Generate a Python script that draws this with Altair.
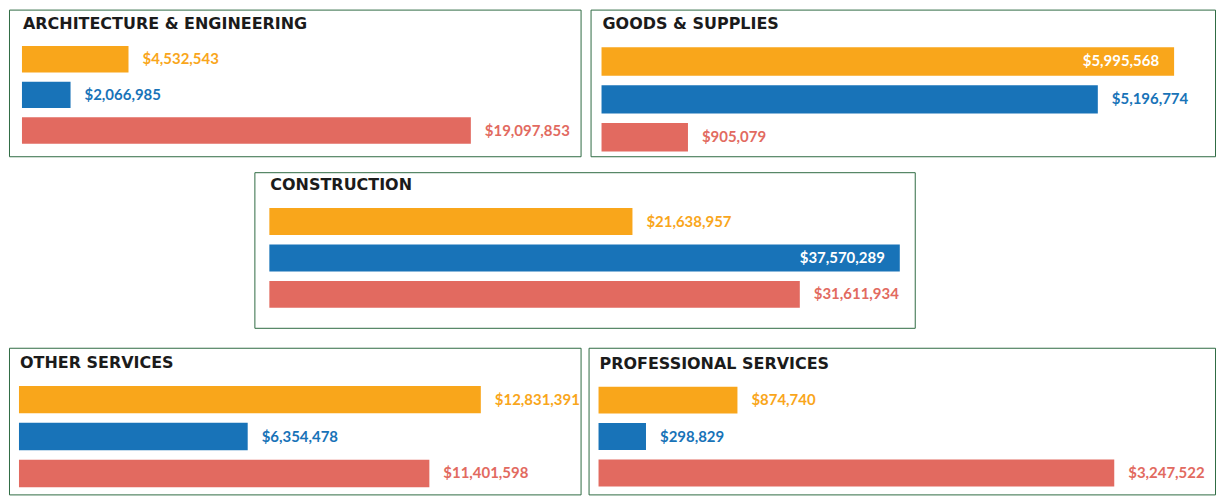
import altair as alt
import pandas as pd

# ---------------- data ----------------
categories = [
    "ARCHITECTURE & ENGINEERING",
    "GOODS & SUPPLIES",
    "CONSTRUCTION",
    "OTHER SERVICES",
    "PROFESSIONAL SERVICES",
]
series_names = ["Series 1", "Series 2", "Series 3"]
orange_values = [4532543, 5995568, 21638957, 12831391, 874740]
blue_values = [2066985, 5196774, 37570289, 6354478, 298829]
red_values = [19097853, 905079, 31611934, 11401598, 3247522]

# ---------------- style / layout ----------------
colors = ["#F9A61B", "#1873B8", "#E26A60"]
border = "#2f6b43"
label_font = "Lato"
label_size = 15
title_font = "DejaVu Sans"
title_size = 16

# per panel: width, height, bar start px, max-bar end px, title centre, step, bar height
layout = [
    dict(w=573, h=147, x0=13, x1=463, tc=14, step=35.75, bh=26.5),
    dict(w=626, h=147, x0=11, x1=585, tc=14, step=38.0, bh=28.5),
    dict(w=662, h=156, x0=15, x1=647, tc=13, step=36.5, bh=27.0),
    dict(w=573, h=147, x0=10, x1=473, tc=15, step=37.0, bh=27.5),
    dict(w=628, h=147, x0=10, x1=527, tc=16, step=36.5, bh=27.0),
]

y_domain = ["title"] + series_names


def est_width(v):
    s = "${:,}".format(v)
    w = 0.0
    for ch in s:
        if ch == ",":
            w += 0.26 * label_size
        else:
            w += 0.56 * label_size
    return w


def panel(i):
    L = layout[i]
    vals = [orange_values[i], blue_values[i], red_values[i]]
    vmax = max(vals)
    rows = []
    for s, v in zip(series_names, vals):
        end = L["x0"] + (L["x1"] - L["x0"]) * v / vmax
        inside = end + 14 + est_width(v) > L["w"]
        rows.append(dict(row=s, value=v, inside=bool(inside)))
    df = pd.DataFrame(rows)
    tdf = pd.DataFrame({"row": ["title"], "value": [0], "name": [categories[i]]})

    r0 = L["tc"] - L["bh"] / 2
    r1 = r0 + 3 * L["step"] + L["bh"]
    pi = 1 - L["bh"] / L["step"]

    x = alt.X("value:Q", scale=alt.Scale(domain=[0, vmax], range=[L["x0"], L["x1"]]), axis=None)
    y = alt.Y(
        "row:N",
        scale=alt.Scale(domain=y_domain, range=[r0, r1], paddingInner=pi, paddingOuter=0),
        axis=None,
    )
    col = alt.Color("row:N", scale=alt.Scale(domain=series_names, range=colors), legend=None)

    bars = alt.Chart(df).mark_bar().encode(x=x, y=y, color=col)
    out = (
        alt.Chart(df)
        .transform_filter("!datum.inside")
        .mark_text(align="left", baseline="middle", dx=14, font=label_font,
                   fontSize=label_size, fontWeight="bold")
        .encode(x=x, y=y, text=alt.Text("value:Q", format="$,.0f"), color=col)
    )
    ins = (
        alt.Chart(df)
        .transform_filter("datum.inside")
        .mark_text(align="right", baseline="middle", dx=-15, font=label_font,
                   fontSize=label_size, fontWeight="bold", color="white")
        .encode(x=x, y=y, text=alt.Text("value:Q", format="$,.0f"))
    )
    title = (
        alt.Chart(tdf)
        .mark_text(align="left", baseline="middle", dx=1, font=title_font,
                   fontSize=title_size, fontWeight="bold", color="#1b1b1b")
        .encode(x=x, y=y, text="name:N")
    )
    return alt.layer(bars, out, ins, title).properties(width=L["w"], height=L["h"])


spacer = (
    alt.Chart(pd.DataFrame({"v": [0]}))
    .mark_rect(opacity=0)
    .encode(x=alt.value(0), x2=alt.value(10), y=alt.value(0), y2=alt.value(10))
    .properties(width=244, height=156, view=alt.ViewBackground(stroke="transparent"))
)

row1 = alt.hconcat(panel(0), panel(1), spacing=8)
row2 = alt.hconcat(spacer, panel(2), spacing=0)
row3 = alt.hconcat(panel(3), panel(4), spacing=6)

chart = (
    alt.vconcat(alt.vconcat(row1, row2, spacing=14), row3, spacing=18)
    .properties(padding=0, background="white")
    .configure_view(stroke=border, strokeWidth=1)
)

chart.save("out.html", embed_options={"renderer": "svg", "actions": False})
